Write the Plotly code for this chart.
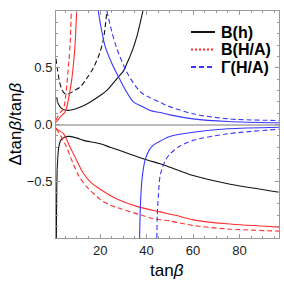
import plotly.graph_objects as go

# ---- data (tanβ, Δtanβ/tanβ) ----
bh_solid_up_x = [1.3, 2.0, 3.5, 5.6, 8.0, 11.0, 14.3, 20.0, 22.9, 27.9, 30.0, 32.0, 34.0, 36.0, 38.4]
bh_solid_up_y = [0.24, 0.18, 0.14, 0.125, 0.13, 0.15, 0.18, 0.255, 0.30, 0.42, 0.47, 0.56, 0.66, 0.79, 1.0]

bh_dash_up_x = [1.0, 1.5, 2.5, 3.5, 4.9, 6.5, 9.0, 11.4, 14.0, 17.1, 20.0, 21.5, 22.9]
bh_dash_up_y = [0.58, 0.50, 0.38, 0.31, 0.27, 0.27, 0.30, 0.33, 0.40, 0.50, 0.64, 0.76, 1.0]

bh_solid_lo_x = [1.15, 1.3, 1.6, 2.2, 3.0, 4.9, 7.0, 10.0, 12.8, 20.0, 24.3, 30.0, 40.0, 45.8, 50.0, 60.0, 74.5, 98.0]
bh_solid_lo_y = [-1.0, -0.6, -0.35, -0.2, -0.14, -0.11, -0.105, -0.12, -0.14, -0.17, -0.20, -0.24, -0.31, -0.346, -0.376, -0.45, -0.52, -0.60]

bha_solid_up_x = [1.0, 1.6, 3.0, 4.9, 5.6, 6.8, 7.8, 8.6, 9.2, 9.9]
bha_solid_up_y = [0.02, 0.035, 0.07, 0.11, 0.15, 0.27, 0.40, 0.55, 0.70, 1.0]

bha_dash_up_x = [1.0, 1.6, 3.0, 4.2, 5.0, 5.6, 6.5, 7.1, 7.6]
bha_dash_up_y = [0.04, 0.064, 0.11, 0.14, 0.22, 0.34, 0.55, 0.72, 1.0]

bha_solid_lo_x = [1.0, 1.4, 4.2, 7.1, 10.0, 12.8, 16.0, 20.0, 25.7, 30.0, 37.2, 45.8, 52.4, 60.2, 74.5, 98.0]
bha_solid_lo_y = [-0.03, -0.04, -0.08, -0.20, -0.32, -0.43, -0.51, -0.57, -0.64, -0.68, -0.73, -0.77, -0.80, -0.84, -0.875, -0.905]

bha_dash_lo_x = [1.0, 1.5, 4.9, 8.5, 11.0, 14.3, 20.0, 24.3, 28.6, 38.0, 42.9, 50.0, 60.2, 74.5, 98.0]
bha_dash_lo_y = [-0.04, -0.05, -0.17, -0.35, -0.46, -0.55, -0.66, -0.71, -0.74, -0.80, -0.83, -0.85, -0.89, -0.92, -0.94]

gha_solid_up_x = [19.2, 20.0, 22.0, 25.0, 27.9, 31.0, 34.3, 38.0, 41.5, 45.8, 50.0, 60.0, 75.0, 98.0]
gha_solid_up_y = [1.0, 0.9, 0.70, 0.54, 0.42, 0.30, 0.20, 0.16, 0.123, 0.105, 0.085, 0.05, 0.027, 0.015]

gha_dash_up_x = [22.9, 25.0, 27.2, 31.5, 37.2, 42.0, 45.8, 48.7, 60.0, 75.0, 98.0]
gha_dash_up_y = [1.0, 0.82, 0.67, 0.46, 0.29, 0.23, 0.196, 0.167, 0.094, 0.05, 0.035]

gha_solid_lo_x = [37.0, 37.2, 37.6, 38.2, 39.4, 41.0, 43.0, 46.0, 50.0, 60.0, 75.0, 98.0]
gha_solid_lo_y = [-1.0, -0.8, -0.6, -0.45, -0.31, -0.23, -0.18, -0.145, -0.105, -0.068, -0.038, -0.024]

gha_dash_lo_x = [44.4, 44.6, 45.1, 45.8, 46.5, 48.0, 50.0, 54.4, 60.0, 75.0, 98.0]
gha_dash_lo_y = [-1.0, -0.8, -0.62, -0.45, -0.40, -0.32, -0.26, -0.19, -0.14, -0.082, -0.04]

legend_labels = ["B(h)", "B(H/A)", "Γ(H/A)"]
x_ticks = [20, 40, 60, 80]
y_ticks = [-0.5, 0.0, 0.5]
x_title = "tan<i>β</i>"
y_title = "Δtan<i>β</i>/tan<i>β</i>"

BLACK = "#111111"
RED = "rgb(255,45,45)"
BLUE = "rgb(55,55,255)"
DASH = "5px,3px"
FONT = "Liberation Sans, Arial"

fig = go.Figure()

def add(x, y, color, dash):
    fig.add_trace(go.Scatter(x=x, y=y, mode="lines", showlegend=False,
                             line=dict(color=color, width=1.1, dash=dash, shape="spline", smoothing=0.8),
                             hoverinfo="skip"))

add(bh_solid_up_x, bh_solid_up_y, BLACK, "solid")
add(bh_dash_up_x, bh_dash_up_y, BLACK, DASH)
add(bh_solid_lo_x, bh_solid_lo_y, BLACK, "solid")
add(bha_solid_up_x, bha_solid_up_y, RED, "solid")
add(bha_dash_up_x, bha_dash_up_y, RED, DASH)
add(bha_solid_lo_x, bha_solid_lo_y, RED, "solid")
add(bha_dash_lo_x, bha_dash_lo_y, RED, DASH)
add(gha_solid_up_x, gha_solid_up_y, BLUE, "solid")
add(gha_dash_up_x, gha_dash_up_y, BLUE, DASH)
add(gha_solid_lo_x, gha_solid_lo_y, BLUE, "solid")
add(gha_dash_lo_x, gha_dash_lo_y, BLUE, DASH)

# plot-area pixel frame
L, R, T, B = 56, 279, 11, 238
def px(x):
    return (x - L) / (R - L)
def py(y):
    return (B - y) / (B - T)

# manual legend (paper coords)
leg_styles = [(BLACK, "solid"), (RED, "2px,2px"), (BLUE, "5px,3px")]
leg_rows = [32, 49.5, 67]
for (c, d), lab, r in zip(leg_styles, legend_labels, leg_rows):
    fig.add_shape(type="line", xref="paper", yref="paper",
                  x0=px(191), x1=px(215), y0=py(r), y1=py(r),
                  line=dict(color=c, width=2, dash=d))
    fig.add_annotation(xref="paper", yref="paper", x=px(219), y=py(r), text="<b>" + lab + "</b>",
                       showarrow=False, xanchor="left", yanchor="middle",
                       font=dict(family=FONT, size=16, color="#000"))

# axis titles as annotations
fig.add_annotation(xref="paper", yref="paper", x=px(167), y=py(270), text=x_title,
                   showarrow=False, xanchor="center", yanchor="middle",
                   font=dict(family=FONT, size=17, color="#000"))
fig.add_annotation(xref="paper", yref="paper", x=px(15), y=py(124.5), text=y_title,
                   showarrow=False, xanchor="center", yanchor="middle", textangle=-90,
                   font=dict(family=FONT, size=17, color="#000"))

axis_common = dict(showline=True, linecolor="#999999", linewidth=1, mirror="allticks",
                   ticks="inside", ticklen=4, tickcolor="#999999", showgrid=False, automargin=False,
                   tickfont=dict(family=FONT, size=13, color="#222"))

fig.update_xaxes(range=[1, 97], tickvals=x_ticks, zeroline=False,
                 minor=dict(dtick=5, tick0=0, ticks="inside", ticklen=2, tickcolor="#999999"),
                 **axis_common)
fig.update_yaxes(range=[-1, 1], tickvals=y_ticks, tickformat=".1f",
                 zeroline=True, zerolinecolor="#bbbbbb", zerolinewidth=2,
                 minor=dict(dtick=0.1, tick0=0, ticks="inside", ticklen=2, tickcolor="#999999"),
                 **axis_common)

fig.update_layout(width=284, height=284, margin=dict(l=L, r=284 - R, t=T, b=284 - B, pad=0),
                  paper_bgcolor="white", plot_bgcolor="white")

fig.write_html("out.html", config={"displayModeBar": False},
               post_script="document.body.style.margin='0';document.body.style.overflow='hidden';")
